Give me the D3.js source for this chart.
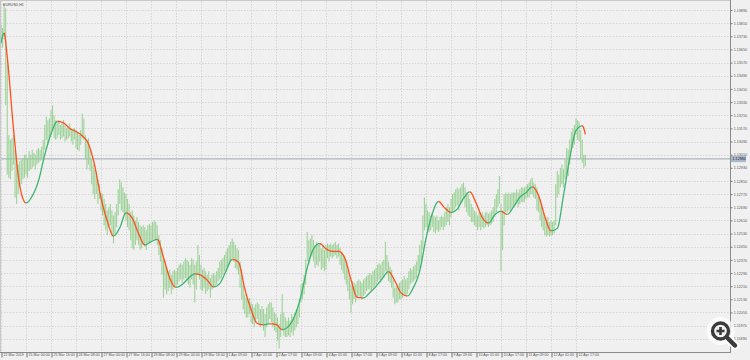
<!DOCTYPE html>
<html>
<head>
<meta charset="utf-8">
<script src="https://cdn.jsdelivr.net/npm/d3@7"></script>
<style>
html, body { margin: 0; padding: 0; background: #f0f0f0; overflow: hidden; }
svg { display: block; font-family: 'Liberation Sans', Arial, sans-serif; }
</style>
</head>
<body>
<script>
const width = 750;
const height = 360;

// chart title and axis labels
const symbol = 'EURUSD,H1';
const xLabels = ['22 Mar 2019', '25 Mar 00:00', '25 Mar 16:00', '26 Mar 08:00', '27 Mar 00:00', '27 Mar 16:00',
  '28 Mar 08:00', '29 Mar 00:00', '29 Mar 16:00', '1 Apr 09:00', '2 Apr 01:00', '2 Apr 17:00',
  '3 Apr 09:00', '4 Apr 01:00', '4 Apr 17:00', '5 Apr 09:00', '8 Apr 01:00', '8 Apr 17:00',
  '9 Apr 09:00', '10 Apr 01:00', '10 Apr 17:00', '11 Apr 09:00', '12 Apr 01:00', '12 Apr 17:00'];
const yTicks = [1.11890, 1.11970, 1.12050, 1.12130, 1.12210, 1.12290, 1.12370, 1.12450, 1.12530,
  1.12610, 1.12690, 1.12770, 1.12850, 1.12930, 1.13010, 1.13090, 1.13170, 1.13250, 1.13330,
  1.13410, 1.13490, 1.13570, 1.13650, 1.13730, 1.13810, 1.13890];
const lastPrice = 1.12984;

// hourly bars (high / low)
const highs = [
  1.1380,1.1378,1.1392,1.1390,1.1359,1.1313,1.1310,1.1311,1.1313,1.1304,1.1298,1.1295,1.1297,1.1298,1.1299,1.1301,
  1.1301,1.1299,1.1303,1.1301,1.1304,1.1302,1.1301,1.1304,1.1305,1.1304,1.1306,1.1310,1.1319,1.1324,1.1322,1.1323,
  1.1328,1.1331,1.1325,1.1322,1.1321,1.1322,1.1319,1.1320,1.1322,1.1319,1.1317,1.1318,1.1320,1.1317,1.1316,1.1317,
  1.1316,1.1315,1.1313,1.1316,1.1326,1.1323,1.1313,1.1310,1.1311,1.1304,1.1298,1.1295,1.1292,1.1289,1.1286,1.1283,
  1.1278,1.1277,1.1274,1.1271,1.1267,1.1269,1.1271,1.1267,1.1264,1.1266,1.1271,1.1280,1.1286,1.1284,1.1281,1.1278,
  1.1277,1.1274,1.1271,1.1266,1.1267,1.1264,1.1261,1.1263,1.1260,1.1258,1.1257,1.1258,1.1257,1.1255,1.1258,1.1259,
  1.1258,1.1260,1.1261,1.1260,1.1258,1.1252,1.1249,1.1244,1.1238,1.1236,1.1232,1.1230,1.1231,1.1228,1.1230,1.1231,
  1.1230,1.1232,1.1234,1.1235,1.1234,1.1236,1.1238,1.1237,1.1236,1.1234,1.1238,1.1237,1.1234,1.1236,1.1246,1.1240,
  1.1234,1.1231,1.1232,1.1230,1.1228,1.1230,1.1226,1.1228,1.1229,1.1228,1.1230,1.1232,1.1236,1.1237,1.1238,1.1240,
  1.1242,1.1244,1.1246,1.1248,1.1250,1.1248,1.1246,1.1244,1.1243,1.1236,1.1231,1.1222,1.1216,1.1214,1.1213,1.1214,
  1.1211,1.1210,1.1208,1.1210,1.1211,1.1210,1.1207,1.1209,1.1207,1.1204,1.1208,1.1210,1.1211,1.1211,1.1208,1.1205,
  1.1204,1.1202,1.1198,1.1204,1.1216,1.1205,1.1202,1.1200,1.1202,1.1200,1.1204,1.1202,1.1205,1.1207,1.1208,1.1213,
  1.1222,1.1223,1.1228,1.1237,1.1254,1.1249,1.1250,1.1252,1.1249,1.1246,1.1248,1.1246,1.1247,1.1244,1.1246,1.1243,
  1.1246,1.1247,1.1246,1.1247,1.1246,1.1247,1.1248,1.1246,1.1247,1.1244,1.1242,1.1240,1.1238,1.1236,1.1231,1.1226,
  1.1222,1.1224,1.1223,1.1222,1.1224,1.1225,1.1224,1.1223,1.1225,1.1226,1.1227,1.1228,1.1229,1.1228,1.1230,1.1231,
  1.1232,1.1234,1.1235,1.1234,1.1236,1.1237,1.1248,1.1240,1.1236,1.1233,1.1231,1.1225,1.1220,1.1221,1.1222,1.1223,
  1.1224,1.1225,1.1227,1.1225,1.1226,1.1230,1.1232,1.1231,1.1233,1.1234,1.1236,1.1240,1.1246,1.1249,1.1264,1.1275,
  1.1271,1.1267,1.1266,1.1264,1.1266,1.1264,1.1263,1.1264,1.1261,1.1263,1.1264,1.1263,1.1266,1.1269,1.1271,1.1269,
  1.1274,1.1277,1.1278,1.1280,1.1281,1.1280,1.1281,1.1283,1.1284,1.1281,1.1278,1.1277,1.1274,1.1271,1.1269,1.1267,
  1.1266,1.1264,1.1266,1.1264,1.1266,1.1264,1.1266,1.1266,1.1265,1.1266,1.1267,1.1269,1.1274,1.1277,1.1280,1.1288,
  1.1271,1.1267,1.1277,1.1278,1.1277,1.1278,1.1277,1.1278,1.1278,1.1278,1.1280,1.1278,1.1280,1.1281,1.1281,1.1281,
  1.1282,1.1283,1.1284,1.1286,1.1287,1.1284,1.1283,1.1281,1.1277,1.1274,1.1271,1.1266,1.1263,1.1261,1.1263,1.1260,
  1.1261,1.1260,1.1261,1.1283,1.1291,1.1289,1.1293,1.1295,1.1292,1.1298,1.1305,1.1304,1.1310,1.1315,1.1317,1.1319,
  1.1323,1.1322,1.1321,1.1316,1.1310,1.1301,1.1301
];
const lows = [
  1.1368,1.1366,1.1371,1.1331,1.1289,1.1287,1.1286,1.1291,1.1295,1.1275,1.1271,1.1277,1.1281,1.1283,1.1286,1.1287,
  1.1289,1.1287,1.1291,1.1292,1.1293,1.1294,1.1292,1.1295,1.1296,1.1297,1.1298,1.1299,1.1304,1.1310,1.1307,1.1311,
  1.1313,1.1316,1.1311,1.1310,1.1311,1.1313,1.1310,1.1311,1.1312,1.1309,1.1310,1.1311,1.1312,1.1309,1.1307,1.1310,
  1.1305,1.1304,1.1303,1.1307,1.1311,1.1310,1.1298,1.1292,1.1295,1.1291,1.1283,1.1277,1.1274,1.1277,1.1271,1.1274,
  1.1267,1.1264,1.1258,1.1255,1.1252,1.1257,1.1258,1.1251,1.1247,1.1252,1.1257,1.1264,1.1271,1.1267,1.1266,1.1264,
  1.1261,1.1257,1.1255,1.1249,1.1244,1.1243,1.1246,1.1249,1.1246,1.1243,1.1244,1.1246,1.1245,1.1243,1.1247,1.1248,
  1.1248,1.1249,1.1250,1.1249,1.1246,1.1240,1.1236,1.1228,1.1214,1.1219,1.1216,1.1218,1.1220,1.1216,1.1219,1.1221,
  1.1221,1.1222,1.1224,1.1225,1.1223,1.1225,1.1226,1.1224,1.1222,1.1220,1.1225,1.1222,1.1211,1.1219,1.1228,1.1225,
  1.1219,1.1218,1.1220,1.1216,1.1218,1.1219,1.1214,1.1219,1.1220,1.1221,1.1222,1.1224,1.1225,1.1226,1.1228,1.1230,
  1.1230,1.1232,1.1234,1.1236,1.1238,1.1236,1.1232,1.1231,1.1228,1.1220,1.1213,1.1207,1.1204,1.1202,1.1202,1.1204,
  1.1199,1.1198,1.1196,1.1199,1.1201,1.1198,1.1196,1.1198,1.1194,1.1190,1.1196,1.1198,1.1201,1.1199,1.1196,1.1194,
  1.1193,1.1188,1.1183,1.1190,1.1194,1.1191,1.1190,1.1190,1.1191,1.1190,1.1193,1.1191,1.1194,1.1196,1.1198,1.1202,
  1.1211,1.1213,1.1216,1.1222,1.1236,1.1234,1.1238,1.1239,1.1236,1.1232,1.1234,1.1233,1.1236,1.1231,1.1232,1.1230,
  1.1231,1.1238,1.1236,1.1239,1.1238,1.1239,1.1240,1.1238,1.1239,1.1234,1.1231,1.1229,1.1225,1.1222,1.1218,1.1213,
  1.1205,1.1210,1.1213,1.1211,1.1214,1.1215,1.1214,1.1213,1.1215,1.1216,1.1218,1.1219,1.1219,1.1218,1.1220,1.1221,
  1.1222,1.1224,1.1225,1.1223,1.1225,1.1226,1.1230,1.1228,1.1224,1.1223,1.1220,1.1214,1.1210,1.1211,1.1211,1.1213,
  1.1213,1.1214,1.1216,1.1215,1.1216,1.1219,1.1222,1.1223,1.1224,1.1225,1.1226,1.1230,1.1232,1.1236,1.1243,1.1255,
  1.1257,1.1255,1.1254,1.1255,1.1257,1.1254,1.1253,1.1255,1.1254,1.1255,1.1257,1.1255,1.1257,1.1258,1.1260,1.1258,
  1.1263,1.1266,1.1267,1.1269,1.1270,1.1267,1.1271,1.1272,1.1274,1.1269,1.1266,1.1264,1.1263,1.1260,1.1260,1.1258,
  1.1257,1.1255,1.1257,1.1255,1.1257,1.1256,1.1257,1.1258,1.1257,1.1258,1.1259,1.1260,1.1263,1.1266,1.1269,1.1271,
  1.1230,1.1243,1.1258,1.1266,1.1266,1.1267,1.1267,1.1269,1.1269,1.1270,1.1271,1.1269,1.1271,1.1272,1.1272,1.1272,
  1.1274,1.1275,1.1275,1.1277,1.1277,1.1275,1.1274,1.1267,1.1266,1.1261,1.1257,1.1255,1.1252,1.1251,1.1252,1.1251,
  1.1252,1.1252,1.1253,1.1258,1.1275,1.1277,1.1281,1.1283,1.1281,1.1286,1.1289,1.1288,1.1295,1.1303,1.1305,1.1307,
  1.1313,1.1310,1.1309,1.1299,1.1296,1.1293,1.1294
];

// smoothed trend line, read every 4th bar
const maBars = [0, 2].concat(d3.range(4, 373, 4), [374]);
const maValues = [
  1.13690, 1.13750, 1.13604, 1.13167, 1.12820, 1.12717, 1.12759, 1.12851, 1.13009, 1.13136,
  1.13212, 1.13203, 1.13170, 1.13151, 1.13124, 1.13075, 1.12942, 1.12747, 1.12607, 1.12516,
  1.12565, 1.12656, 1.12623, 1.12531, 1.12461, 1.12480, 1.12495, 1.12385, 1.12258, 1.12203,
  1.12221, 1.12258, 1.12285, 1.12276, 1.12246, 1.12206, 1.12227, 1.12302, 1.12373, 1.12355,
  1.12194, 1.12069, 1.11984, 1.11975, 1.11981, 1.11977, 1.11946, 1.11966, 1.12030, 1.12151,
  1.12322, 1.12437, 1.12469, 1.12437, 1.12422, 1.12422, 1.12382, 1.12249, 1.12142, 1.12139,
  1.12170, 1.12209, 1.12256, 1.12298, 1.12243, 1.12170, 1.12151, 1.12203, 1.12303, 1.12500,
  1.12650, 1.12725, 1.12686, 1.12659, 1.12680, 1.12743, 1.12784, 1.12717, 1.12628, 1.12594,
  1.12644, 1.12665, 1.12647, 1.12692, 1.12750, 1.12779, 1.12814, 1.12762, 1.12636, 1.12547,
  1.12563, 1.12762, 1.12989, 1.13157, 1.13185, 1.13133
];

const plotRight = 730.5;
const plotBottom = 352.5;

const x = d3.scaleLinear().domain([0, 368]).range([1, 576]);
const y = d3.scaleLinear().domain([1.11890, 1.13890]).range([338.75, 10]);

const svg = d3.select('body').append('svg').attr('width', width).attr('height', height);

svg.append('rect').attr('width', width).attr('height', height).attr('fill', '#f0f0f0');

// grid
const tickBars = xLabels.map((d, i) => i * 16);

svg.append('g')
  .selectAll('line')
  .data(tickBars)
  .join('line')
    .attr('x1', (d) => Math.round(x(d)) + 0.5)
    .attr('x2', (d) => Math.round(x(d)) + 0.5)
    .attr('y1', 1)
    .attr('y2', plotBottom)
    .attr('stroke', '#d6d6d6')
    .attr('stroke-dasharray', '1.5,1.5');

svg.append('g')
  .selectAll('line')
  .data(yTicks)
  .join('line')
    .attr('x1', 1)
    .attr('x2', plotRight)
    .attr('y1', (d) => Math.round(y(d)) + 0.5)
    .attr('y2', (d) => Math.round(y(d)) + 0.5)
    .attr('stroke', '#d6d6d6')
    .attr('stroke-dasharray', '1.5,1.5');

// last price line
svg.append('line')
  .attr('x1', 0)
  .attr('x2', plotRight)
  .attr('y1', y(lastPrice))
  .attr('y2', y(lastPrice))
  .attr('stroke', '#aeb5be')
  .attr('stroke-width', 1.4);

// bars
svg.append('g')
  .selectAll('line')
  .data(highs)
  .join('line')
    .attr('x1', (d, i) => x(i))
    .attr('x2', (d, i) => x(i))
    .attr('y1', (d) => y(d))
    .attr('y2', (d, i) => y(lows[i]))
    .attr('stroke', '#8fcd8a')
    .attr('stroke-opacity', 0.85)
    .attr('stroke-width', 1.1);

// trend line, green when rising and red when falling
const maLine = d3.line()
  .x((d, i) => x(maBars[i]))
  .y((d) => y(d))
  .curve(d3.curveMonotoneX);

const hidden = svg.append('path').attr('d', maLine(maValues)).attr('fill', 'none');
const node = hidden.node();
const len = node.getTotalLength();
const pts = d3.range(0, len, 0.5).map((l) => node.getPointAtLength(l));
pts.push(node.getPointAtLength(len));
hidden.remove();

const runs = [];
let cur = null;
for (let i = 1; i < pts.length; i++) {
  const up = pts[i].y < pts[i - 1].y;
  if (!cur || cur.up !== up) {
    cur = { up, pts: [pts[i - 1]] };
    runs.push(cur);
  }
  cur.pts.push(pts[i]);
}

svg.append('g')
  .selectAll('path')
  .data(runs)
  .join('path')
    .attr('d', (d) => d3.line().x((p) => p.x).y((p) => p.y)(d.pts))
    .attr('fill', 'none')
    .attr('stroke', (d) => d.up ? '#3cb371' : '#ff4f1a')
    .attr('stroke-width', 1.3)
    .attr('stroke-linejoin', 'round');

// frame
svg.append('rect')
  .attr('x', 0.5)
  .attr('y', 0.5)
  .attr('width', plotRight - 0.5)
  .attr('height', plotBottom - 0.5)
  .attr('fill', 'none')
  .attr('stroke', '#c8c8c8');
svg.append('line')
  .attr('x1', plotRight).attr('x2', plotRight)
  .attr('y1', 0).attr('y2', plotBottom)
  .attr('stroke', '#8a8a8a');
svg.append('line')
  .attr('x1', 0).attr('x2', plotRight)
  .attr('y1', plotBottom).attr('y2', plotBottom)
  .attr('stroke', '#8a8a8a');

// y axis
const yAxis = svg.append('g')
  .attr('transform', `translate(${plotRight},0)`)
  .call(d3.axisRight(y).tickValues(yTicks).tickSize(2).tickPadding(1.2).tickFormat(d3.format('.5f')));
yAxis.select('.domain').remove();
yAxis.selectAll('line').attr('stroke', '#777');
yAxis.selectAll('text').attr('font-size', 3.7).attr('fill', '#555');

// x axis
const xAxis = svg.append('g')
  .attr('transform', `translate(0,${plotBottom})`)
  .call(d3.axisBottom(x).tickValues(tickBars).tickSize(5).tickFormat((d, i) => xLabels[i]));
xAxis.select('.domain').remove();
xAxis.selectAll('.tick line').attr('stroke', '#777').attr('transform', 'translate(0.5,0)');
xAxis.selectAll('text')
  .attr('text-anchor', 'start')
  .attr('x', 2)
  .attr('y', 1.4)
  .attr('font-size', 3.6)
  .attr('fill', '#555');

// last price label
const lp = svg.append('g').attr('transform', `translate(${plotRight + 0.5},${y(lastPrice)})`);
lp.append('rect').attr('x', 0).attr('y', -3.2).attr('width', 15).attr('height', 6.4).attr('fill', '#a9b8cb');
lp.append('text').attr('x', 1.5).attr('dy', '0.35em').attr('font-size', 3.7).attr('fill', '#1f2a38')
  .text(d3.format('.5f')(lastPrice));

// symbol
svg.append('text')
  .attr('x', 3)
  .attr('y', 6)
  .attr('font-size', 3.6)
  .attr('fill', '#444')
  .text(symbol);

// zoom icon overlay
const icon = svg.append('g').attr('transform', 'translate(720.5,331)');
icon.append('circle').attr('r', 14).attr('fill', '#ffffff').attr('opacity', 0.75);
icon.append('line').attr('x1', 6).attr('y1', 6).attr('x2', 15).attr('y2', 15)
  .attr('stroke', '#ffffff').attr('stroke-width', 8).attr('stroke-linecap', 'round');
icon.append('line').attr('x1', 6).attr('y1', 6).attr('x2', 14.5).attr('y2', 14.5)
  .attr('stroke', '#3b3b3b').attr('stroke-width', 4.5).attr('stroke-linecap', 'round');
icon.append('circle').attr('r', 8).attr('fill', '#f4f4f4').attr('stroke', '#3b3b3b').attr('stroke-width', 3.4);
icon.append('line').attr('x1', -4).attr('x2', 4).attr('stroke', '#3b3b3b').attr('stroke-width', 2.6);
icon.append('line').attr('y1', -4).attr('y2', 4).attr('stroke', '#3b3b3b').attr('stroke-width', 2.6);
</script>
</body>
</html>
